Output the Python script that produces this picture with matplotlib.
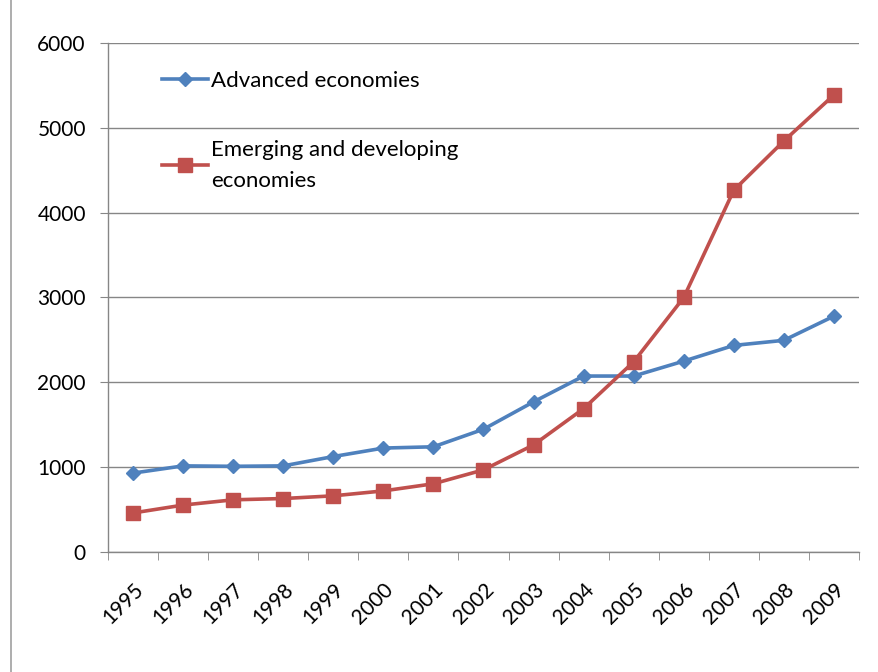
import matplotlib
matplotlib.use("Agg")
from matplotlib import pyplot as plt
from matplotlib.lines import Line2D

years = [str(y) for y in range(1995, 2010)]
advanced = [930, 1015, 1010, 1015, 1125, 1225, 1240, 1447, 1770, 2074,
            2074, 2250, 2435, 2495, 2780]
emerging = [460, 553, 615, 630, 662, 720, 804, 968, 1262, 1690,
            2242, 3000, 4265, 4845, 5388]
yticks = [0, 1000, 2000, 3000, 4000, 5000, 6000]

BLUE = "#4F81BD"
RED = "#C0504D"
GRID = "#868686"

plt.rcParams["font.family"] = ["Lato", "DejaVu Sans"]

fig = plt.figure(figsize=(8.79, 6.72), dpi=100)
ax = fig.add_axes([0.1229, 0.1786, 0.8543, 0.7574])

# left edge of the chart-area border
fig.add_artist(Line2D([0.0125, 0.0125], [0, 1], transform=fig.transFigure,
                      color="#A0A0A0", lw=1.2))

x = list(range(len(years)))
ax.plot(x, advanced, color=BLUE, lw=2.6, marker="D", ms=7,
        label="Advanced economies")
ax.plot(x, emerging, color=RED, lw=2.6, marker="s", ms=9.5,
        label="Emerging and developing\neconomies")

ax.set_xlim(-0.5, len(years) - 0.5)
ax.set_ylim(0, 6000)
ax.set_yticks(yticks)
ax.set_yticklabels([str(v) for v in yticks], fontsize=15)
ax.set_xticks(x)
ax.set_xticklabels(years, rotation=45, ha="right", va="top",
                   rotation_mode="anchor", fontsize=15)
ax.set_xticks([i - 0.5 for i in range(len(years) + 1)], minor=True)
ax.tick_params(axis="x", which="major", length=0, pad=20)
ax.tick_params(axis="x", which="minor", length=6, color=GRID)
ax.tick_params(axis="y", length=6, color=GRID, pad=10)

ax.grid(axis="y", color=GRID, lw=1.0)
ax.set_axisbelow(True)
for s in ["top", "right"]:
    ax.spines[s].set_visible(False)
for s in ["left", "bottom"]:
    ax.spines[s].set_color(GRID)
    ax.spines[s].set_linewidth(1.0)

leg = ax.legend(loc="upper left", bbox_to_anchor=(0.045, 0.985), frameon=False,
                fontsize=16, handlelength=2.1, handletextpad=0.1,
                labelspacing=2.2)
for t in leg.get_texts():
    t.set_linespacing(1.7)

fig.savefig("out.png", dpi=100)
